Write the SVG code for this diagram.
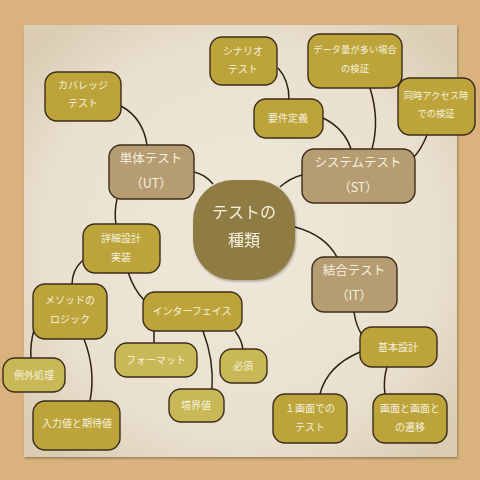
<svg xmlns="http://www.w3.org/2000/svg" width="480" height="480" viewBox="0 0 480 480">
<defs>
<radialGradient id="paper" cx="50%" cy="50%" r="65%">
<stop offset="0" stop-color="#efe8da"/>
<stop offset="0.7" stop-color="#e9e0cf"/>
<stop offset="1" stop-color="#dacdb4"/>
</radialGradient>
<filter id="sh" x="-10%" y="-10%" width="130%" height="130%">
<feDropShadow dx="1" dy="1.5" stdDeviation="1.2" flood-color="#000" flood-opacity="0.3"/>
</filter>
</defs>
<style>
.y{fill:#bca43a;stroke:#3b2d1b;stroke-width:1.4}
.l{fill:#c9b856;stroke:#3b2d1b;stroke-width:1.4}
.t{fill:#b59c73;stroke:#3b2d1b;stroke-width:1.4}
.c{fill:#8f7c43}
text{font-family:"Noto Sans CJK JP","Noto Sans",sans-serif;fill:#f6f0df;text-anchor:middle}
.s{font-size:10px}
.n{font-size:9.3px}
.m{font-size:12.5px}
.b{font-size:16px}
#connectors path{fill:none;stroke:#2e2015;stroke-width:1.5}
</style>
<rect width="480" height="480" fill="#d9b27d"/>
<rect x="24" y="25" width="433" height="432" fill="url(#paper)" filter="url(#sh)"/>
<g id="connectors">
<path d="M121,106 Q143,118 147,145"/>
<path d="M194,172 Q206,175 213,184"/>
<path d="M117,199 Q114,212 116,225"/>
<path d="M83,260 Q72,270 72,284"/>
<path d="M128,272 Q134,290 144,300"/>
<path d="M34,330 Q30,344 31,358"/>
<path d="M84,339 Q96,370 90,401"/>
<path d="M154,331 L154,343"/>
<path d="M203,331 Q214,360 212,389"/>
<path d="M235,331 Q242,340 243,350"/>
<path d="M280,187 Q290,178 302,175"/>
<path d="M323,118 Q344,128 351,149"/>
<path d="M370,88 Q380,120 372,149"/>
<path d="M278,68 Q289,80 289,99"/>
<path d="M427,135 Q421,150 413,158"/>
<path d="M295,227 Q325,235 337,257"/>
<path d="M354,312 Q356,326 362,335"/>
<path d="M360,352 Q327,366 320,394"/>
<path d="M387,367 Q383,380 385,394"/>
</g>
<g id="center" filter="url(#sh)">
<rect class="c" x="193" y="180" width="102" height="100" rx="40"/>
<text class="b" x="244" y="218">テストの</text>
<text class="b" x="244" y="246">種類</text>
</g>
<g id="ut">
<rect class="t" x="109" y="145" width="85" height="54" rx="12"/>
<text class="m" x="151" y="163">単体テスト</text>
<text class="m" x="151" y="188">（UT）</text>
</g>
<g id="st">
<rect class="t" x="302" y="149" width="113" height="54" rx="12"/>
<text class="m" x="358" y="167">システムテスト</text>
<text class="m" x="358" y="192">（ST）</text>
</g>
<g id="it">
<rect class="t" x="312" y="257" width="85" height="55" rx="12"/>
<text class="m" x="354" y="275">結合テスト</text>
<text class="m" x="354" y="300">（IT）</text>
</g>
<g id="coverage">
<rect class="y" x="45" y="72" width="76" height="49" rx="12"/>
<text class="s" x="83" y="89">カバレッジ</text>
<text class="s" x="83" y="107">テスト</text>
</g>
<g id="scenario">
<rect class="y" x="210" y="37" width="67" height="48" rx="12"/>
<text class="s" x="243" y="55">シナリオ</text>
<text class="s" x="243" y="73">テスト</text>
</g>
<g id="dataload">
<rect class="y" x="308" y="34" width="94" height="54" rx="12"/>
<text class="n" x="355" y="53">データ量が多い場合</text>
<text class="n" x="355" y="72">の検証</text>
</g>
<g id="requirements">
<rect class="y" x="254" y="99" width="69" height="39" rx="12"/>
<text class="s" x="288" y="122">要件定義</text>
</g>
<g id="concurrent">
<rect class="y" x="398" y="78" width="77" height="57" rx="12"/>
<text class="n" x="436" y="99">同時アクセス時</text>
<text class="n" x="436" y="117">での検証</text>
</g>
<g id="detail">
<rect class="y" x="83" y="224" width="77" height="49" rx="12"/>
<text class="s" x="121" y="242">詳細設計</text>
<text class="s" x="121" y="261">実装</text>
</g>
<g id="method">
<rect class="y" x="33" y="284" width="74" height="55" rx="12"/>
<text class="s" x="70" y="304">メソッドの</text>
<text class="s" x="70" y="323">ロジック</text>
</g>
<g id="interface">
<rect class="y" x="143" y="292" width="99" height="39" rx="12"/>
<text class="s" x="192" y="315">インターフェイス</text>
</g>
<g id="format">
<rect class="l" x="115" y="343" width="82" height="34" rx="12"/>
<text class="s" x="156" y="364">フォーマット</text>
</g>
<g id="required">
<rect class="l" x="220" y="349" width="47" height="34" rx="12"/>
<text class="s" x="243" y="370">必須</text>
</g>
<g id="boundary">
<rect class="l" x="169" y="389" width="55" height="33" rx="12"/>
<text class="s" x="196" y="409">境界値</text>
</g>
<g id="exception">
<rect class="l" x="3" y="358" width="62" height="34" rx="12"/>
<text class="s" x="34" y="379">例外処理</text>
</g>
<g id="input">
<rect class="y" x="33" y="401" width="87" height="49" rx="12"/>
<text class="s" x="77" y="427">入力値と期待値</text>
</g>
<g id="basic">
<rect class="y" x="360" y="327" width="77" height="40" rx="12"/>
<text class="s" x="398" y="351">基本設計</text>
</g>
<g id="onescreen">
<rect class="y" x="273" y="394" width="74" height="49" rx="12"/>
<text class="s" x="310" y="412">１画面での</text>
<text class="s" x="310" y="431">テスト</text>
</g>
<g id="transition">
<rect class="y" x="373" y="394" width="74" height="49" rx="12"/>
<text class="s" x="410" y="412">画面と画面と</text>
<text class="s" x="410" y="431">の遷移</text>
</g>
</svg>
